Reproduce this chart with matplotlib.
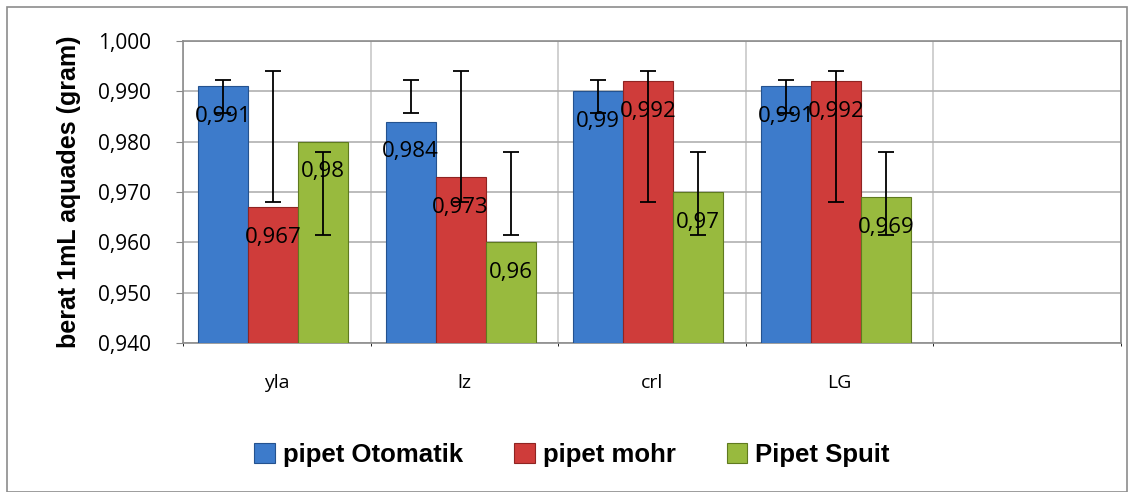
import numpy as np
import matplotlib.pyplot as plt
from matplotlib.patches import Rectangle

# data
categories = ['yla', 'lz', 'crl', 'LG', '']
series_names = ['pipet Otomatik', 'pipet mohr', 'Pipet Spuit']
otomatik = [0.991, 0.984, 0.990, 0.991]
mohr = [0.967, 0.973, 0.992, 0.992]
spuit = [0.980, 0.960, 0.970, 0.969]
label_text = [['0,991', '0,984', '0,99', '0,991'],
              ['0,967', '0,973', '0,992', '0,992'],
              ['0,98', '0,96', '0,97', '0,969']]
# error bar ends (same for every category in the source)
err_low = [0.9857, 0.968, 0.9614]
err_high = [0.9922, 0.994, 0.978]
yticks = [0.940, 0.950, 0.960, 0.970, 0.980, 0.990, 1.000]
ytick_labels = ['0,940', '0,950', '0,960', '0,970', '0,980', '0,990', '1,000']

colors = ['#3d7bcb', '#cf3c3a', '#98ba3e']
edges = ['#24528f', '#8f2422', '#5f7a1f']

plt.rcParams['font.family'] = ['Open Sans', 'DejaVu Sans']

fig = plt.figure(figsize=(11.28, 4.92), dpi=100)
ax = fig.add_axes([183/1128, 1 - 343/492, (1121-183)/1128, (343-41)/492])

x = np.arange(len(categories))
w = 0.267
all_vals = [otomatik, mohr, spuit]
for s, vals in enumerate(all_vals):
    xs = x[:len(vals)] + (s - 1) * w - 0.02
    ax.bar(xs, np.array(vals) - 0.94, bottom=0.94, width=w, color=colors[s],
           edgecolor=edges[s], linewidth=0.8, label=series_names[s], zorder=3)
    mid = (err_low[s] + err_high[s]) / 2
    half = (err_high[s] - err_low[s]) / 2
    ax.errorbar(xs, [mid] * len(xs), yerr=half, fmt='none', ecolor='black',
                elinewidth=1.3, capsize=6, capthick=1.3, zorder=5)
    for xi, v, t in zip(xs, vals, label_text[s]):
        ax.text(xi, v - 0.006, t, ha='center', va='center', fontsize=16,
                color='black', zorder=6)

ax.set_xlim(-0.5, len(categories) - 0.5)
ax.set_ylim(0.94, 1.0)
ax.set_yticks(yticks)
ax.set_yticklabels(ytick_labels, fontsize=15)
ax.set_xticks(x)
ax.set_xticklabels(categories, fontsize=14)
ax.tick_params(axis='x', length=0, pad=22)
ax.tick_params(axis='y', length=5, color='#888888', pad=18, direction='out')
ax.set_xticks(np.arange(len(categories) + 1) - 0.5, minor=True)
ax.grid(axis='y', color='#b0b0b0', linewidth=1.2, zorder=0)
ax.grid(axis='x', which='minor', color='#c8c8c8', linewidth=1.2, zorder=0)
for sp in ax.spines.values():
    sp.set_color('#8c8c8c')
    sp.set_linewidth(1.2)
ax.set_ylabel('berat 1mL aquades (gram)', fontsize=18, fontweight='bold',
              family=['Liberation Sans', 'DejaVu Sans'], labelpad=12)

leg = fig.legend(loc='center', bbox_to_anchor=(572/1128, 1 - 455/492), ncol=3,
                 frameon=False, prop={'family': 'Liberation Sans', 'weight': 'bold', 'size': 18.5},
                 handlelength=0.8, handleheight=0.8, columnspacing=2.0, handletextpad=0.3)

fig.add_artist(Rectangle((7/1128, 0), 1 - 8/1128, 1 - 7/492, transform=fig.transFigure,
                         fill=False, edgecolor='#8c8c8c', linewidth=1.2))

fig.savefig('out.png', dpi=100)
